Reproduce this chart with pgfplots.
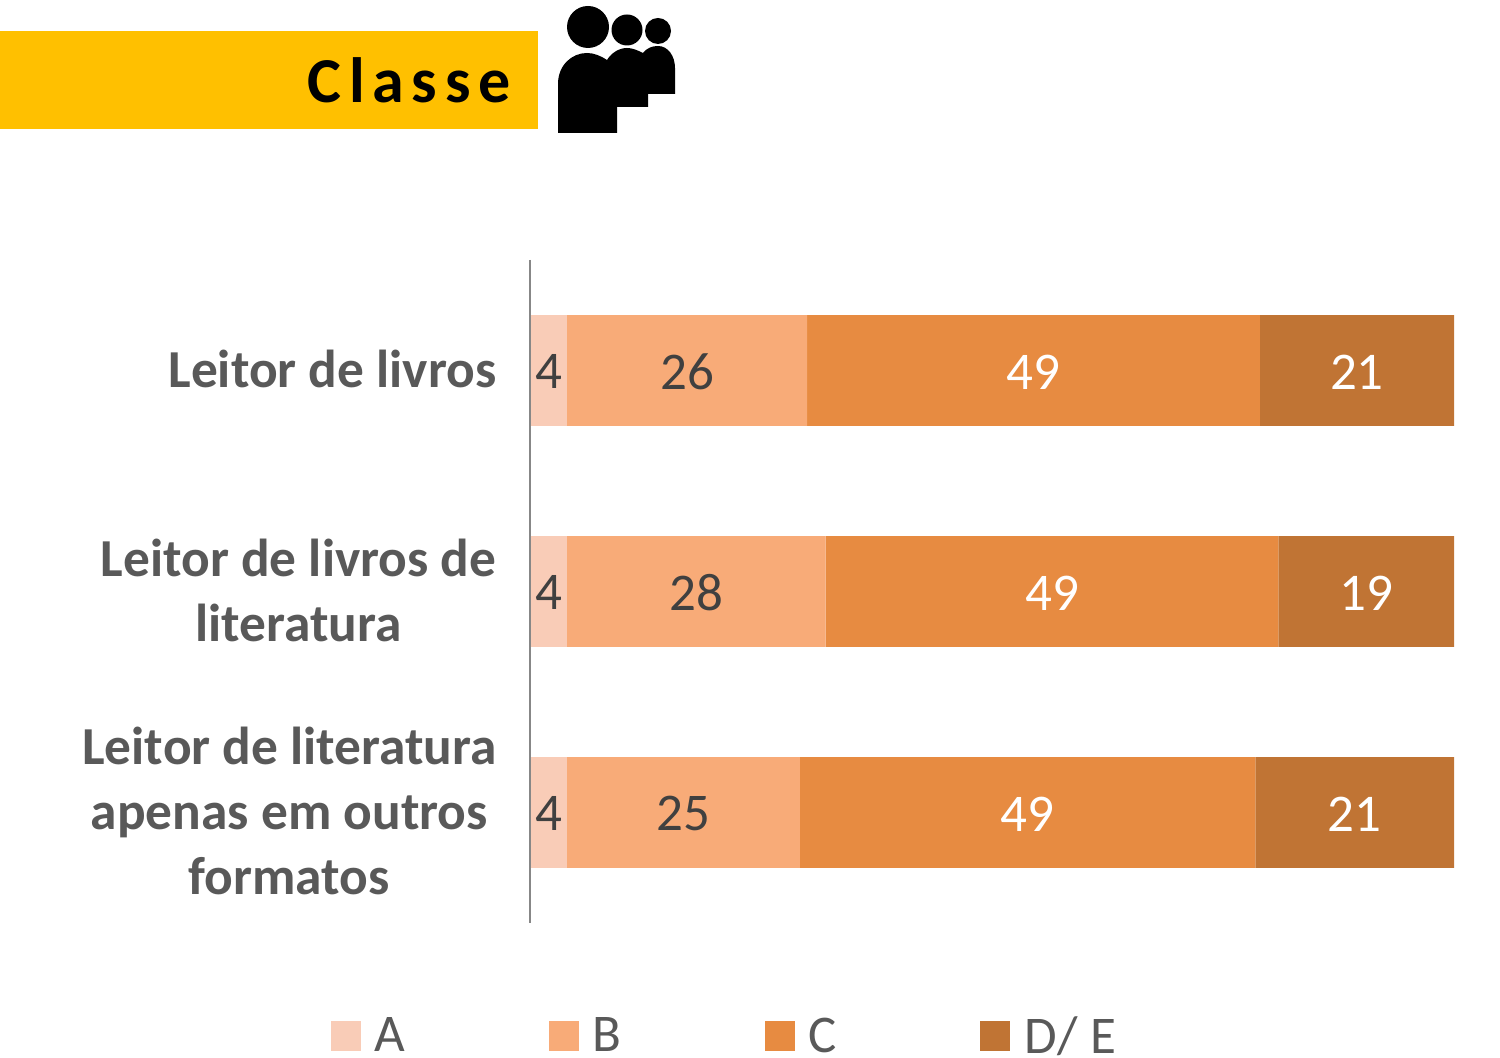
\documentclass[border=0pt]{standalone}
\usepackage{pgfplots}
\pgfplotsset{compat=1.18}
\usepackage{pgfplotstable}
\usepackage{fontspec}
\setmainfont{Carlito}
\newfontfamily\titlefont[LetterSpace=12]{Carlito}
\definecolor{cA}{HTML}{F9CCB7}
\definecolor{cB}{HTML}{F8AB78}
\definecolor{cC}{HTML}{E78B41}
\definecolor{cD}{HTML}{C07434}
\definecolor{lab}{HTML}{595959}
\definecolor{val}{HTML}{404040}
\pgfplotstableread{
y v l
0 4 4
1 4 4
2 4 4
}\serA
\pgfplotstableread{
y v l
0 26 26
1 28 28
2 25.2 25
}\serB
\pgfplotstableread{
y v l
0 49 49
1 49 49
2 49.3 49
}\serC
\pgfplotstableread{
y v l
0 21 21
1 19 19
2 21.5 21
}\serD
\begin{document}
\begin{tikzpicture}
\path[use as bounding box] (0,0) rectangle (750pt,529pt);
\begin{scope}[yshift=529pt,x=0.5pt,y=-0.5pt]
\fill[fill={rgb,255:red,255;green,192;blue,0}] (0,31) rectangle (538,129);
\node[anchor=east,inner sep=0pt,font=\titlefont\fontsize{32}{38}\selectfont\bfseries,text=black] at (511,80.5) {Classe};
\fill[black] (588,27) circle (21);
\fill[black] (627,30) circle (15.5);
\fill[black] (658,31) circle (13);
\fill[black] (558,133) -- (558,84) .. controls (558,65) and (572,53) .. (587,53)
  .. controls (594,53) and (601,56) .. (607,60)
  .. controls (612,52) and (620,48) .. (627,48)
  .. controls (632,48) and (637,50) .. (643,53)
  .. controls (647,48) and (652,46) .. (658,46)
  .. controls (668,46) and (675,56) .. (675,68)
  -- (675,94) -- (648,94) -- (648,107) -- (617,107) -- (617,133) -- cycle;
\end{scope}
\begin{axis}[
  at={(265pt,67.5pt)}, anchor=south west,
  scale only axis, width=462pt, height=331.5pt,
  xbar stacked, bar width=55.3pt,
  xmin=0, xmax=100, ymin=-0.5, ymax=2.5, y dir=reverse,
  axis x line=none, axis y line=left, axis on top,
  axis line style={-, draw=black!47, line width=1pt},
  ytick={0,1,2},
  yticklabels={{Leitor de livros},{Leitor de livros de\\literatura},{Leitor de literatura\\apenas em outros\\formatos}},
  y tick style={draw=none},
  yticklabel style={align=center, text=lab, font=\fontsize{26.7}{32.5}\selectfont\bfseries, anchor=east, xshift=-14.5pt, yshift=0.7pt, inner sep=0pt},
  clip=false,
  point meta=explicit symbolic,
  nodes near coords,
  nodes near coords style={font=\fontsize{26.5}{30}\selectfont, anchor=center, inner sep=0pt, yshift=-0.7pt},
  legend columns=4,
  legend image code/.code={\fill[#1] (0pt,-7.5pt) rectangle (15pt,7.5pt);},
  legend style={at={(-0.2154,-0.171)}, anchor=west, draw=none, fill=none, inner sep=0pt, outer sep=0pt,
     font=\fontsize{26.5}{30}\selectfont, text=lab, legend cell align=left,
     /tikz/every even column/.append style={column sep=7pt}},
]
\addplot[draw=none, fill=cA, nodes near coords style={text=val}] table[x=v,y=y,meta=l] {\serA};
\addplot[draw=none, fill=cB, nodes near coords style={text=val}] table[x=v,y=y,meta=l] {\serB};
\addplot[draw=none, fill=cC, nodes near coords style={text=white}] table[x=v,y=y,meta=l] {\serC};
\addplot[draw=none, fill=cD, nodes near coords style={text=white}] table[x=v,y=y,meta=l] {\serD};
\legend{\makebox[83pt][l]{\hspace{5pt}A},\makebox[82pt][l]{\hspace{5pt}B},\makebox[81.5pt][l]{\hspace{5pt}C},\makebox[50pt][l]{\hspace{5.5pt}D/ E}}
\end{axis}
\end{tikzpicture}
\end{document}
